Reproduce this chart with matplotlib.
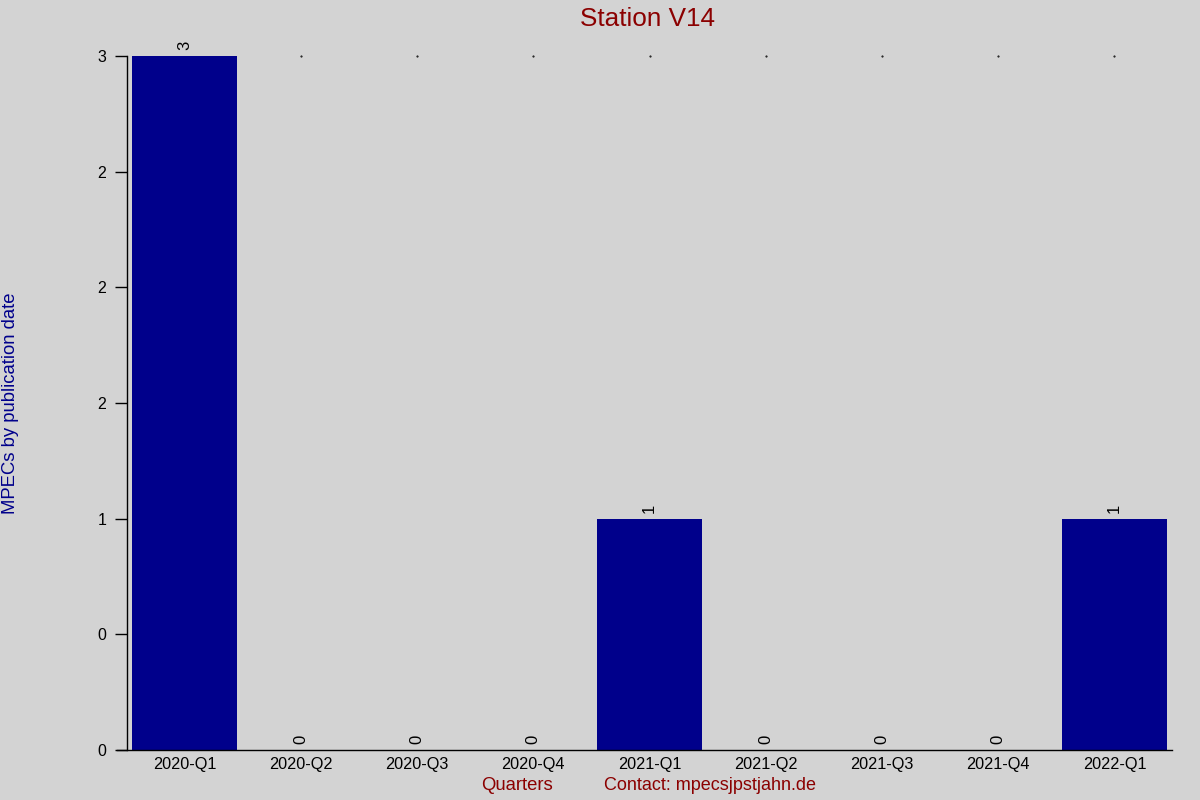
import matplotlib.pyplot as plt
import numpy as np
from matplotlib.ticker import FuncFormatter

plt.rcParams['font.family'] = ['Liberation Sans', 'DejaVu Sans']

# data
quarters = ["2020-Q1", "2020-Q2", "2020-Q3", "2020-Q4", "2021-Q1",
            "2021-Q2", "2021-Q3", "2021-Q4", "2022-Q1"]
counts = [3, 0, 0, 0, 1, 0, 0, 0, 1]
station = "V14"

bg = "#d3d3d3"
navy = "#00008b"
darkred = "#8b0000"

fig = plt.figure(figsize=(12, 8), dpi=100, facecolor=bg)
ax = fig.add_axes([127/1200, 1-750/800, (1172-127)/1200, (750-56)/800])
ax.set_facecolor(bg)

x = np.arange(len(quarters))
ax.bar(x, counts, width=0.9, color=navy)

ymax = max(counts)
ax.set_xlim(-0.495, len(quarters) - 0.505)
ax.set_ylim(0, ymax)

# value labels
for xi, c in zip(x, counts):
    ax.annotate(str(c), (xi, c), xytext=(0, 4), textcoords="offset points",
                rotation=90, ha="center", va="bottom", fontsize=12,
                color="black", annotation_clip=False)
    if c < ymax:
        # tiny marks at the top
        ax.plot(xi, ymax, marker=".", markersize=1, color="black", clip_on=False)

ax.set_xticks(x)
ax.set_xticklabels(quarters)
ax.set_yticks(np.arange(0, ymax + 0.01, 0.5))
ax.yaxis.set_major_formatter(FuncFormatter(lambda v, p: "%d" % round(v)))
ax.tick_params(axis="x", length=0, pad=5, labelsize=11.7)
ax.tick_params(axis="y", length=9, width=1, pad=6, labelsize=11.5)

for s in ["top", "right"]:
    ax.spines[s].set_visible(False)
ax.spines["left"].set_linewidth(1)
ax.spines["bottom"].set_linewidth(1)
ax.spines["bottom"].set_bounds(-0.5 - 9/116.25, len(quarters) - 0.505)

fig.text(648/1200, 1-19/800, "Station " + station, ha="center", va="center",
         fontsize=18.8, color=darkred)
fig.text(11/1200, 1-403/800, "MPECs by publication date", rotation=90,
         ha="center", va="center", fontsize=13.3, color=navy)
fig.text(517/1200, 1-786/800, "Quarters", ha="center", va="center",
         fontsize=13.3, color=darkred)
fig.text(710/1200, 1-786/800, "Contact: mpecsjpstjahn.de", ha="center",
         va="center", fontsize=13, color=darkred)

fig.savefig("out.png", dpi=100, facecolor=bg)
